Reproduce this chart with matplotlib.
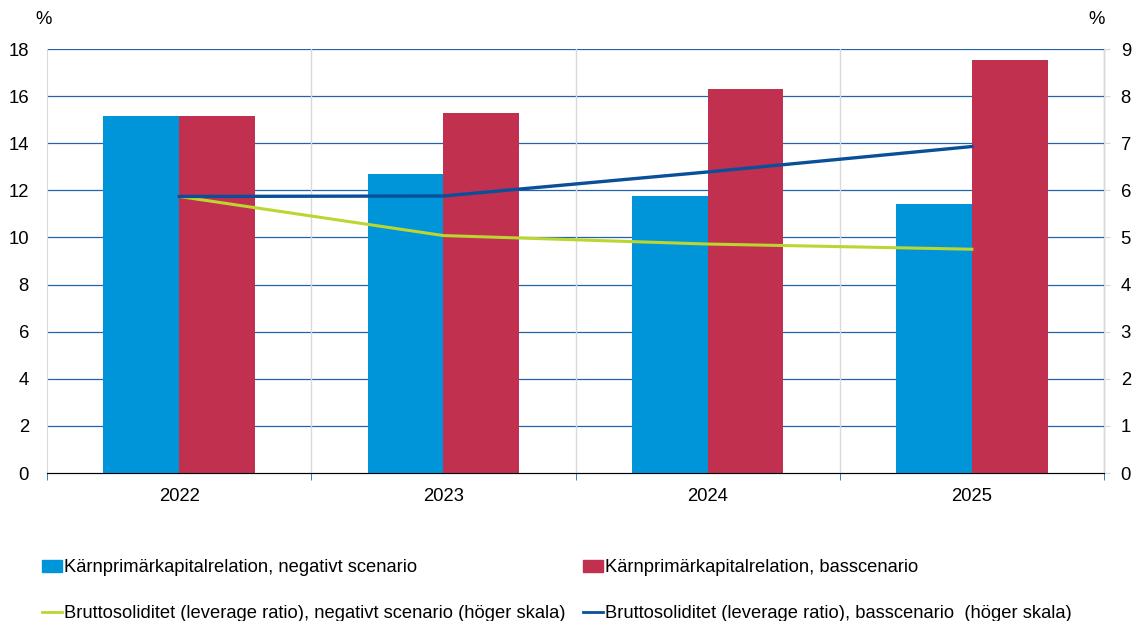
import numpy as np
import matplotlib
matplotlib.use('Agg')
import matplotlib.pyplot as plt
from matplotlib.lines import Line2D
from matplotlib.patches import Patch

plt.rcParams['font.family'] = ['Liberation Sans', 'DejaVu Sans']

years = ['2022', '2023', '2024', '2025']
cet1_negative = [15.15, 12.7, 11.75, 11.4]
cet1_base = [15.15, 15.3, 16.3, 17.55]
leverage_negative = [5.87, 5.04, 4.86, 4.75]
leverage_base = [5.87, 5.88, 6.39, 6.93]

labels = [
    'Kärnprimärkapitalrelation, negativt scenario',
    'Kärnprimärkapitalrelation, basscenario',
    'Bruttosoliditet (leverage ratio), negativt scenario (höger skala)',
    'Bruttosoliditet (leverage ratio), basscenario  (höger skala)',
]

c_blue = '#0095d9'
c_red = '#c1304f'
c_green = '#bcd631'
c_navy = '#0a4f99'
grid_blue = '#2263b0'

fig = plt.figure(figsize=(11.32, 6.21), dpi=100)
ax = fig.add_axes([47 / 1132, 1 - 473 / 621, 1057 / 1132, 424 / 621])
ax2 = ax.twinx()

x = np.arange(len(years))
w = 0.287
ax.bar(x - w / 2, cet1_negative, w, color=c_blue, zorder=3)
ax.bar(x + w / 2, cet1_base, w, color=c_red, zorder=3)

ax.set_xlim(-0.5, 3.5)
ax.set_ylim(0, 18)
ax.set_yticks(range(0, 19, 2))
ax.set_xticks(x)
ax.set_xticklabels(years)
ax.set_xticks(np.arange(-0.5, 4, 1), minor=True)
ax.tick_params(axis='x', which='major', length=0, pad=11, labelsize=13.3)
ax.tick_params(axis='x', which='minor', length=5, color=grid_blue, direction='out')
ax.tick_params(axis='y', length=0, pad=13, labelsize=13.3)

for yv in range(2, 19, 2):
    ax.axhline(yv, color=grid_blue, lw=0.9, zorder=1)
for xv in np.arange(0.5, 3.5, 1):
    ax.axvline(xv, color='#d9d9d9', lw=1, zorder=1)

ax.spines['top'].set_visible(False)
ax2.spines['top'].set_visible(False)
ax.spines['bottom'].set_color(grid_blue)
ax.spines['left'].set_color('#d9d9d9')
ax2.spines['left'].set_visible(False)
ax2.spines['right'].set_color('#d9d9d9')

ax2.plot(x, leverage_negative, color=c_green, lw=2.2, zorder=4)
ax2.plot(x, leverage_base, color=c_navy, lw=2.4, zorder=4)
ax2.set_ylim(0, 9)
ax2.set_yticks(range(0, 10))
ax2.tick_params(axis='y', length=4, color='#d9d9d9', pad=8, labelsize=13.3)

fig.text(35 / 1132, 1 - 20 / 621, '%', fontsize=13.3, va='center')
fig.text(1088 / 1132, 1 - 20 / 621, '%', fontsize=13.3, va='center')

handles = [
    Patch(color=c_blue),
    Line2D([], [], color=c_green, lw=2),
    Patch(color=c_red),
    Line2D([], [], color=c_navy, lw=2),
]
order = [labels[0], labels[2], labels[1], labels[3]]
fig.legend(handles, order, ncol=2, loc='upper left',
           bbox_to_anchor=(25 / 1132, 1 - 543 / 621),
           frameon=False, fontsize=13.2, handlelength=1.1, handletextpad=0.1,
           columnspacing=1.0, labelspacing=1.55, handleheight=0.6)

plt.savefig('out.png', dpi=100)
